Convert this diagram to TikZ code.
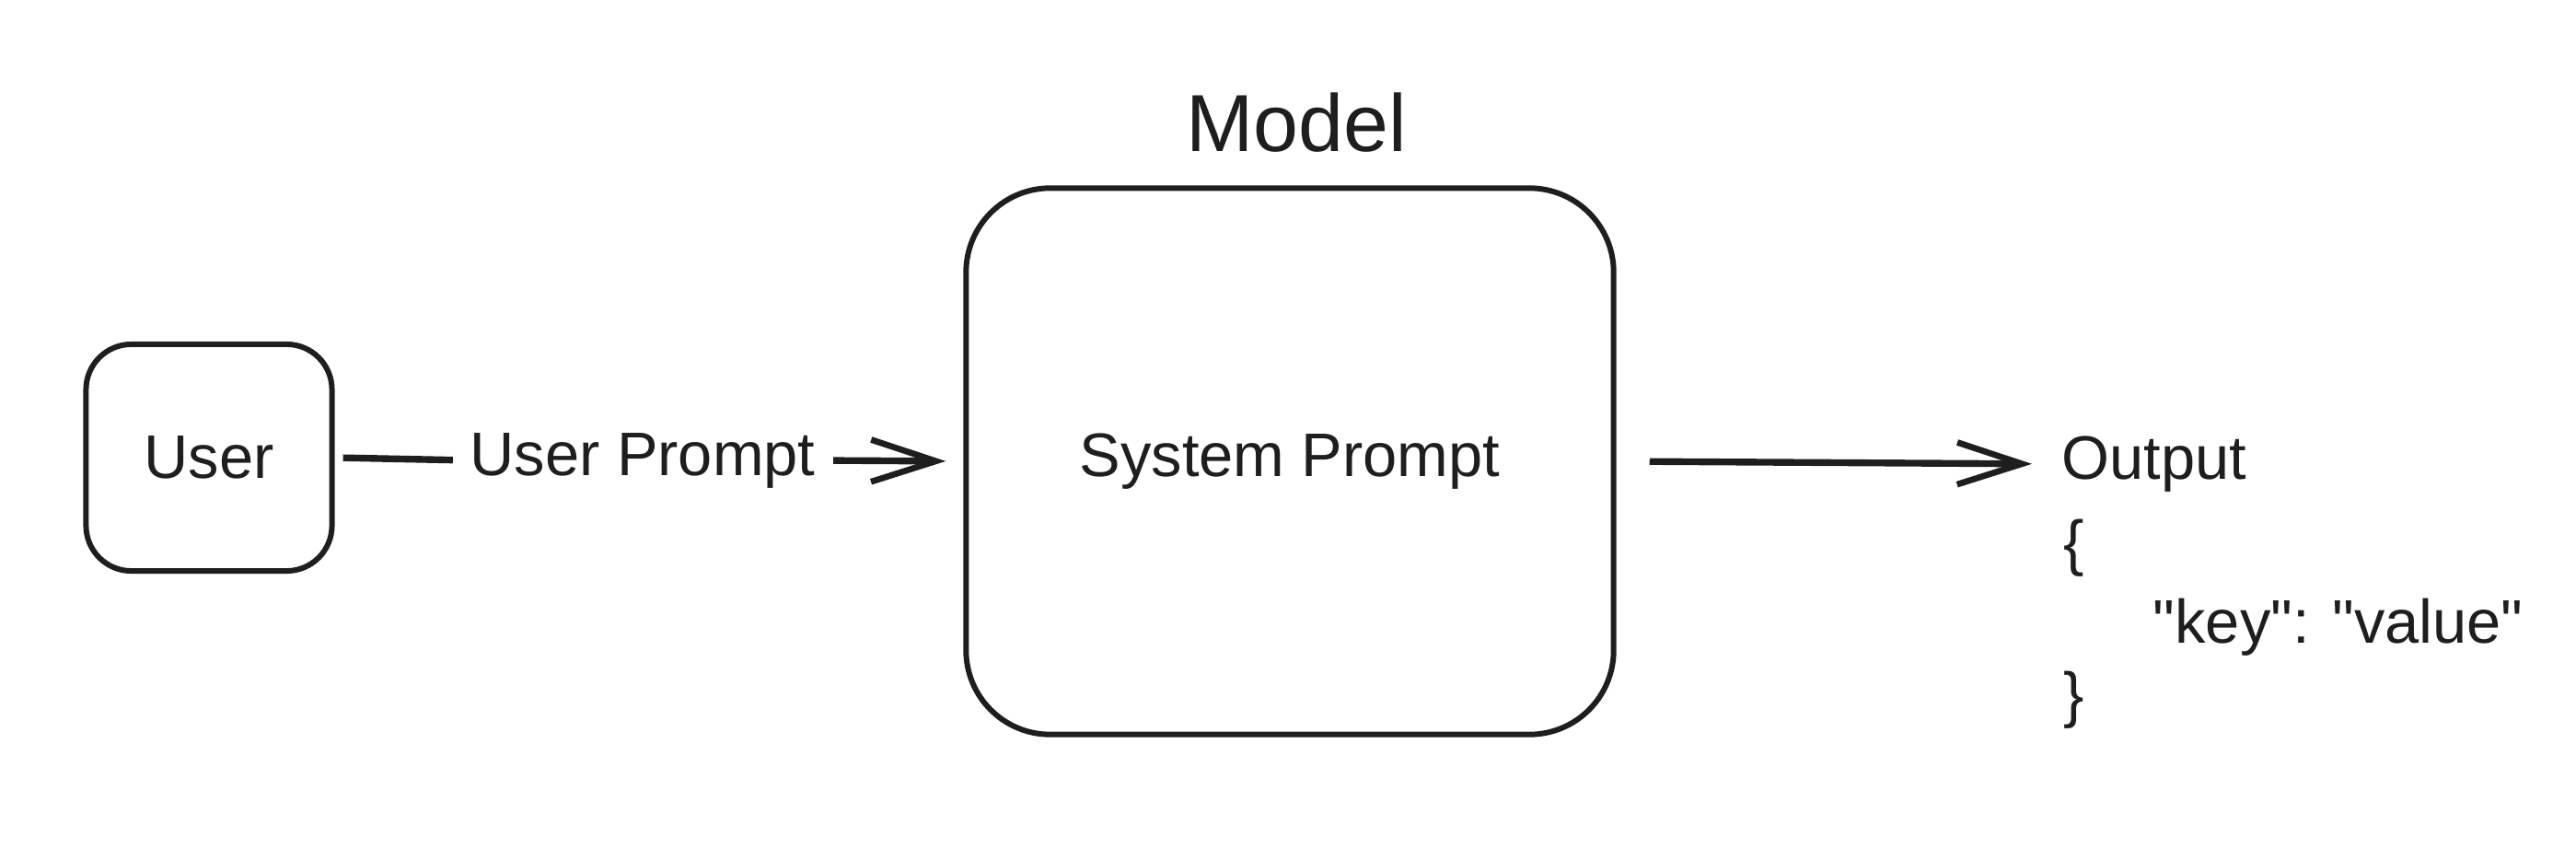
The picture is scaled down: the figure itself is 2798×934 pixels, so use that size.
\documentclass[tikz,border=0pt]{standalone}
\usepackage{fontspec}
\setmainfont{Liberation Sans}[Ligatures=TeXReset]
\usepackage{tikz}
\usetikzlibrary{arrows.meta}
\definecolor{ink}{HTML}{1E1E1E}

\begin{document}
\begin{tikzpicture}[x=0.01cm,y=-0.01cm,
  every node/.style={text=ink,font=\fontsize{19}{23}\selectfont},
  box/.style={draw=ink,line width=1.7pt,inner sep=0pt},
  link/.style={draw=ink,line width=2.1pt},
  >={Straight Barb[length=20pt,width=13pt,line width=1.9pt]}]
  \useasboundingbox (0,0) rectangle (2798,934);

  % user and model
  \node[box,rounded corners=14pt,minimum width=2.67cm,minimum height=2.46cm]
    (user) at (227,497) {User};
  \node[box,rounded corners=26pt,minimum width=7.03cm,minimum height=5.93cm]
    (model) at (1401,501) {System Prompt};
  \node[font=\fontsize{25}{30}\selectfont] (title) at (1408,133) {Model};

  % user prompt
  \node[inner sep=0pt] (uprompt) at (698,500) {User Prompt};
  \draw[link,shorten <=0.09cm,shorten >=0.18cm] (user.east) -- (uprompt.west);
  \draw[link,->,shorten <=0.19cm,shorten >=0.19cm] (uprompt.east) -- (model.west);

  % output
  \node[inner sep=0pt,anchor=west] (output) at (2239,504) {Output};
  \node[inner sep=0pt,anchor=west] (lbrace) at (2241,595) {\{};
  \node[inner sep=0pt,anchor=west] (keyval) at (2338,681) {"key": "value"};
  \node[inner sep=0pt,anchor=west] (rbrace) at (2241,760) {\}};
  \draw[link,->,shorten <=0.36cm,shorten >=0.32cm] (model.east) -- (output.west);

\end{tikzpicture}
\end{document}
